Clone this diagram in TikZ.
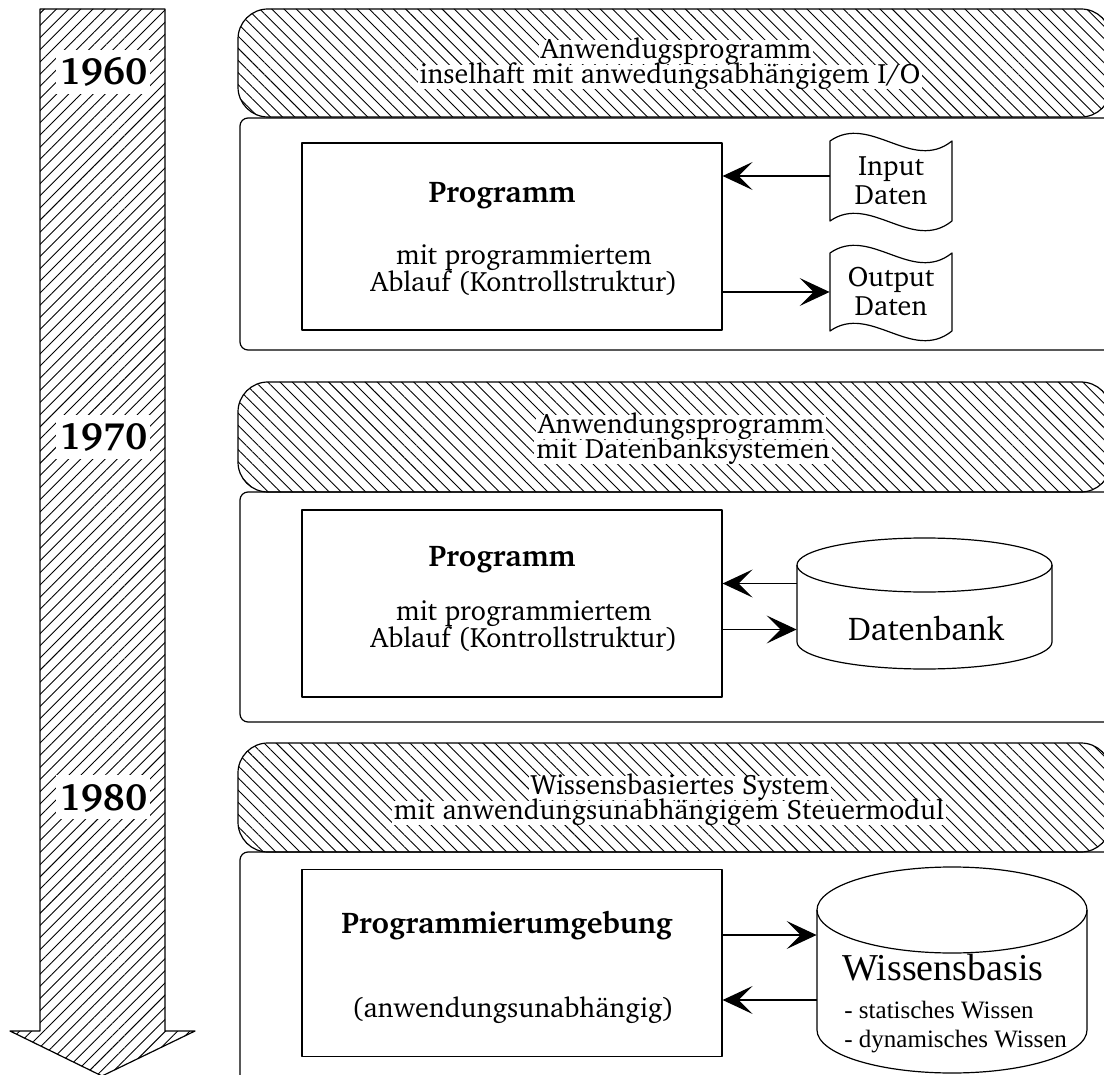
\documentclass[tikz,border=0pt]{standalone}
\usepackage[T1]{fontenc}
\usepackage{fontspec}
\usetikzlibrary{arrows.meta,patterns.meta}
\newfontfamily\basisfont{Liberation Serif}
\newcommand\charterfont{\fontencoding{T1}\fontfamily{bch}\selectfont}

\tikzset{
  hatchup/.style={pattern={Lines[angle=45,distance=4.3pt,line width=0.45pt]}},
  hatchdown/.style={pattern={Lines[angle=-45,distance=4.3pt,line width=0.45pt]}},
  outline/.style={draw, line width=0.6pt},
  timeline/.style={outline, hatchup},
  banner/.style={outline, hatchdown, rounded corners=15pt},
  panel/.style={outline, rounded corners=4pt},
  progbox/.style={outline, minimum width=210pt, minimum height=93.5pt, inner sep=0pt},
  body/.style={font=\charterfont\fontsize{14}{13.5}\selectfont, align=center, inner sep=0pt},
  title/.style={font=\charterfont\bfseries\fontsize{15}{15}\selectfont, inner sep=0pt},
  bline/.style={font=\charterfont\fontsize{14}{12.5}\selectfont, fill=white,
                inner xsep=1pt, inner ysep=0.2pt, text height=9pt, text depth=2.8pt},
  year/.style={font=\charterfont\bfseries\fontsize{19}{19}\selectfont, fill=white,
               inner xsep=1.5pt, inner ysep=4.5pt, text height=13pt, text depth=0pt},
  docnode/.style={font=\charterfont\fontsize{14}{14.5}\selectfont, align=center,
                  inner sep=0pt, minimum width=61pt, minimum height=40pt},
  anchorbox/.style={inner sep=0pt},
  arr/.style={line width=0.6pt, -{Stealth[length=15pt,width=14pt,inset=7pt]}},
}

\begin{document}
\begin{tikzpicture}[x=0.5pt,y=-0.5pt,line join=round]
\path[use as bounding box] (0,0) rectangle (1104,1075);
\clip (0,0) rectangle (1104,1075);

% ---------- time axis ----------
\draw[timeline] (40,9) -- (165,9) -- (165,1031) -- (195,1031) -- (102,1076)
  -- (10,1031) -- (40,1031) -- cycle;
\node[year] (y1960) at (103,72) {1960};
\node[year] (y1970) at (103,437) {1970};
\node[year] (y1980) at (103,797) {1980};

% ---------- panels and banners ----------
\draw[panel] (240,118) rectangle (1125,350);
\draw[panel] (240,492) rectangle (1125,722);
\draw[panel] (240,852) rectangle (1125,1095);
\draw[banner] (238,9) rectangle (1111,117);
\draw[banner] (238,382) rectangle (1111,492);
\draw[banner] (238,743) rectangle (1111,852);

\node[bline] (b1a) at (676,52) {Anwendugsprogramm};
\node[bline] (b1b) at (670,77) {inselhaft mit anwedungsabh\"angigem I/O};
\node[bline] (b2a) at (681,427) {Anwendungsprogramm};
\node[bline] (b2b) at (683,452) {mit Datenbanksystemen};
\node[bline] (b3a) at (680,788) {Wissensbasiertes System};
\node[bline] (b3b) at (669,813) {mit anwendungsunabh\"angigem Steuermodul};

% ---------- 1960: program with its own I/O ----------
\node[progbox] (prog1) at (512,236.5) {};
\node[title] (prog1t) at (502,195) {Programm};
\node[body] (prog1b) at (524,270) {mit programmiertem\\Ablauf (Kontrollstruktur)};

\draw[outline] (830,141) .. controls (870,113) and (912,173) .. (952,141)
  -- (952,221) .. controls (912,253) and (870,193) .. (830,221) -- cycle;
\node[docnode] (indoc) at (891,181) {Input\\Daten};
\draw[outline] (830,253) .. controls (870,225) and (912,285) .. (952,253)
  -- (952,331) .. controls (912,363) and (870,303) .. (830,331) -- cycle;
\node[docnode] (outdoc) at (891,292) {Output\\Daten};

\draw[arr] ([yshift=2.5pt]indoc.west) -- ([yshift=2.5pt]indoc.west -| prog1.east);
\draw[arr] (outdoc.west -| prog1.east) -- (outdoc.west);

% ---------- 1970: program with database ----------
\node[progbox] (prog2) at (512,603.5) {};
\node[title] (prog2t) at (502,559) {Programm};
\node[body] (prog2b) at (524,626) {mit programmiertem\\Ablauf (Kontrollstruktur)};

\draw[outline, fill=white] (797,565) -- (797,642) arc[start angle=180, end angle=0,
  x radius=127.5, y radius=27] -- (1052,565);
\draw[outline] (924.5,565) ellipse [x radius=127.5, y radius=27];
\node[anchorbox, minimum width=127.5pt, minimum height=38.5pt] (db) at (924.5,603.5) {};
\node[font=\charterfont\fontsize{16.5}{18}\selectfont, inner sep=0pt, anchor=base]
  (dbtext) at (926,640) {Datenbank};

\draw[arr] ([yshift=10pt]db.west) -- ([yshift=10pt]db.west -| prog2.east);
\draw[arr] ([yshift=-13pt]db.west -| prog2.east) -- ([yshift=-13pt]db.west);

% ---------- 1980: knowledge based system ----------
\node[progbox] (prog3) at (512,963) {};
\node[title] (prog3t) at (507,925) {Programmierumgebung};
\node[body] (prog3b) at (513,1010) {(anwendungsunabh\"angig)};

\draw[outline, fill=white] (817,910) -- (817,1030) arc[start angle=180, end angle=0,
  x radius=135, y radius=43] -- (1087,910);
\draw[outline] (952,910) ellipse [x radius=135, y radius=43];
\node[anchorbox, minimum width=135pt, minimum height=60pt] (kb) at (952,970) {};
\node[font=\basisfont\fontsize{19}{20}\selectfont, inner sep=0pt, anchor=base]
  (kbtitle) at (943,980) {Wissensbasis};
\node[font=\basisfont\fontsize{12.5}{14}\selectfont, inner sep=0pt, anchor=base west]
  (kbstat) at (844,1018) {- statisches Wissen};
\node[font=\basisfont\fontsize{12.5}{14}\selectfont, inner sep=0pt, anchor=base west]
  (kbdyn) at (844,1047) {- dynamisches Wissen};

\draw[arr] ([yshift=17.5pt]kb.west -| prog3.east) -- ([yshift=17.5pt]kb.west);
\draw[arr] ([yshift=-15pt]kb.west) -- ([yshift=-15pt]kb.west -| prog3.east);
\end{tikzpicture}
\end{document}
